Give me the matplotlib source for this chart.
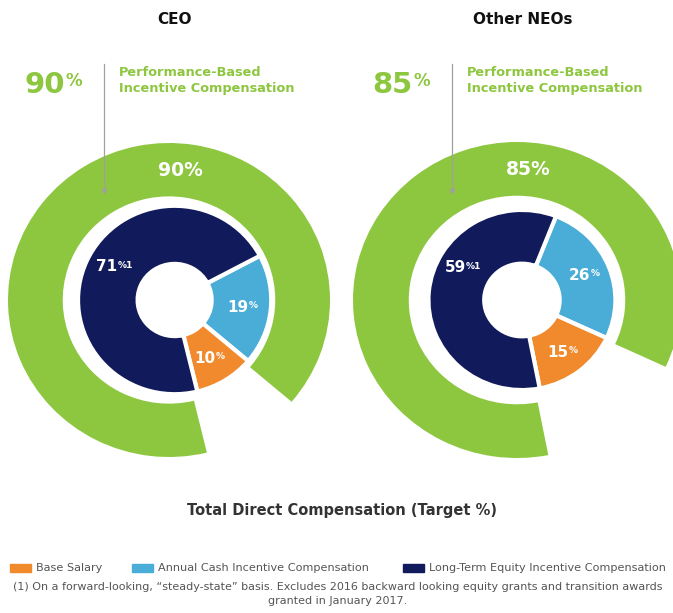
import numpy as np
import matplotlib
matplotlib.use("Agg")
import matplotlib.pyplot as plt
from matplotlib.patches import Rectangle

plt.rcParams["font.family"] = ["DejaVu Sans"]

# ── data ────────────────────────────────────────────────────────────
groups = ["CEO", "Other NEOs"]
base_salary = [10, 15]
annual_cash = [19, 26]
long_term_equity = [71, 59]
performance_based = [90, 85]
equity_note = ["1", "1"]

legend_labels = ["Base Salary", "Annual Cash Incentive Compensation",
                 "Long-Term Equity Incentive Compensation"]

# ── colours ─────────────────────────────────────────────────────────
GREEN = "#8DC63F"
NAVY = "#111B5B"
BLUE = "#4AADD8"
ORANGE = "#F08A2C"
GREY_TXT = "#555555"
ARROW = "#A0A0A0"

W, H = 673, 613
fig = plt.figure(figsize=(W / 100, H / 100), dpi=100, facecolor="white")


def fx(x):
    return x / W


def fy(y):
    return 1 - y / H


# layout per donut (pixels): centre, radii, inner pie size/offset, start angle
layout = [
    {"cx": 169, "cy": 300, "rx": 161, "ry": 157, "inner": 0.60, "off": 0.035,
     "start": 28.0, "big_x": 24, "line_x": 104, "txt_x": 119},
    {"cx": 517, "cy": 300, "rx": 164, "ry": 158, "inner": 0.57, "off": 0.03,
     "start": 68.6, "big_x": 372, "line_x": 452, "txt_x": 467},
]
HOLE_R = 0.23
GREEN_IN = 0.66
NAVY_LABEL_ANGLE = 151


def sup_text(ax, x, y, main, sup, size, color):
    t = ax.text(x, y, main, ha="center", va="center", color=color,
                fontsize=size, fontweight="bold")
    ax.annotate(sup, xy=(1.0, 0.92), xycoords=t, xytext=(0.3, 0),
                textcoords="offset points", ha="left", va="top",
                color=color, fontsize=size * 0.6, fontweight="bold")
    return t


for i, g in enumerate(groups):
    L = layout[i]
    rx, ry = L["rx"], L["ry"]
    ax = fig.add_axes([fx(L["cx"] - rx), fy(L["cy"] + ry), 2 * rx / W, 2 * ry / H])
    ax.axis("off")

    # inner pie: annual cash, base salary, long-term equity (clockwise)
    vals = [annual_cash[i], base_salary[i], long_term_equity[i]]
    cols = [BLUE, ORANGE, NAVY]
    r_in = L["inner"]
    wedges, _ = ax.pie(vals, colors=cols, startangle=L["start"], counterclock=False,
                       radius=r_in, center=(L["off"], 0),
                       wedgeprops=dict(width=r_in - HOLE_R, edgecolor="white",
                                       linewidth=3))

    # outer ring: performance-based pay, gap sits over base salary
    green_start = L["start"] - (annual_cash[i] + base_salary[i]) * 3.6
    gw, _ = ax.pie([performance_based[i], 100 - performance_based[i]],
                   colors=[GREEN, "none"], startangle=green_start,
                   counterclock=False, radius=1.0,
                   wedgeprops=dict(width=1.0 - GREEN_IN, edgecolor="none"))
    for w in list(wedges) + list(gw):
        w.set_clip_on(False)
    ax.set_aspect("auto")
    ax.set_xlim(-1, 1)
    ax.set_ylim(-1, 1)

    # inner labels
    lab_r = (r_in + HOLE_R) / 2 + 0.02
    sups = ["%", "%", "%" + equity_note[i]]
    for k, (w, v) in enumerate(zip(wedges, vals)):
        ang = (w.theta1 + w.theta2) / 2
        if k == 2:
            ang = NAVY_LABEL_ANGLE
        x = L["off"] + lab_r * np.cos(np.radians(ang))
        y = lab_r * np.sin(np.radians(ang))
        sup_text(ax, x - 0.04, y, str(v), sups[k], 11, "white")

    # ring label
    ax.text(0.82 * np.cos(np.radians(85)), 0.83 * np.sin(np.radians(85)),
            f"{performance_based[i]}%", ha="center", va="center",
            color="white", fontsize=13.5, fontweight="bold")

    # group title
    fig.text(fx(L["cx"] + 6), fy(20), g, ha="center", va="center",
             fontsize=11, fontweight="bold", color="#111111")

    # big headline number
    t = fig.text(fx(L["big_x"]), fy(93), str(performance_based[i]), ha="left",
                 va="baseline", fontsize=21, fontweight="bold", color=GREEN)
    ax.annotate("%", xy=(1.0, 0.98), xycoords=t, xytext=(1, 0),
                textcoords="offset points", ha="left", va="top",
                fontsize=12, fontweight="bold", color=GREEN)
    fig.text(fx(L["txt_x"]), fy(66), "Performance-Based\nIncentive Compensation",
             ha="left", va="top", fontsize=9.3, fontweight="bold", color=GREEN,
             linespacing=1.3)
    fig.add_artist(plt.Line2D([fx(L["line_x"]), fx(L["line_x"])],
                              [fy(64), fy(190)], color=ARROW, lw=0.9))
    fig.add_artist(plt.Line2D([fx(L["line_x"])], [fy(191)], marker="v",
                              markersize=3, color=ARROW, lw=0))

# ── title, legend, footnote ────────────────────────────────────────
fig.text(fx(342), fy(510), "Total Direct Compensation (Target %)", ha="center",
         va="center", fontsize=10.5, fontweight="bold", color="#333333")

legend_colors = [ORANGE, BLUE, NAVY]
legend_x = [10, 132, 403]
for lx, lab, c in zip(legend_x, legend_labels, legend_colors):
    fig.add_artist(Rectangle((fx(lx), fy(572)), 21 / W, 8 / H,
                             transform=fig.transFigure, color=c))
    fig.text(fx(lx + 26), fy(568), lab, ha="left", va="center", fontsize=8.1,
             color=GREY_TXT)

fig.text(fx(338), fy(594),
         "(1) On a forward-looking, \u201csteady-state\u201d basis. Excludes 2016 backward "
         "looking equity grants and transition awards\ngranted in January 2017.",
         ha="center", va="center", fontsize=8.0, color=GREY_TXT, linespacing=1.45)

fig.savefig("out.png", dpi=100, facecolor="white")
